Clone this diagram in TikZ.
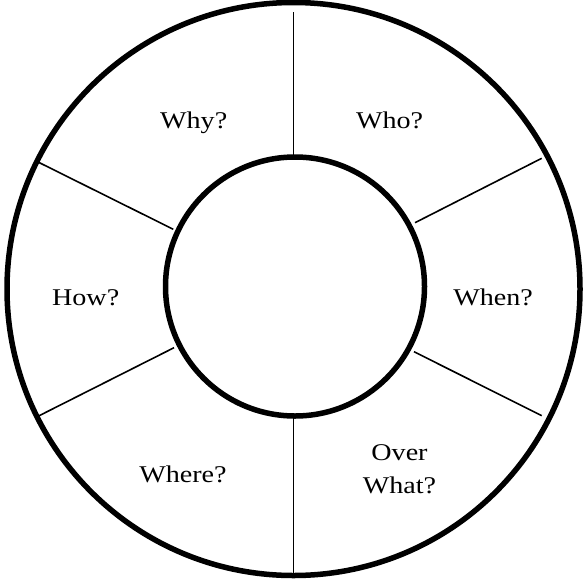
\documentclass[tikz,border=0pt]{standalone}
\usepackage{fontspec}
\setmainfont[FakeStretch=1.17]{Liberation Serif}
\begin{document}
\begin{tikzpicture}[x=1pt,y=-1pt,
  ring/.style={circle,draw=black,line width=5.5pt,inner sep=0pt,outer sep=0pt},
  spoke/.style={draw=black,line width=1.6pt},
  lbl/.style={font=\fontsize{24}{33}\selectfont,align=center,inner sep=0pt,text=black}]
\useasboundingbox (0,0) rectangle (583,581);
\node[ring,minimum size=573pt] (outer) at (293.5,289) {};
\node[ring,minimum size=259pt] (inner) at (295,286.5) {};
\coordinate (t1) at (293.5,12);
\coordinate (t2) at (293.5,155);
\coordinate (b1) at (293.5,418);
\coordinate (b2) at (293.5,575);
\coordinate (ur1) at (541.7,158.3);
\coordinate (ur2) at (415,222.7);
\coordinate (lr1) at (414,351.7);
\coordinate (lr2) at (541.7,415.7);
\coordinate (ul1) at (36,161);
\coordinate (ul2) at (173.3,229.3);
\coordinate (ll1) at (174,347.7);
\coordinate (ll2) at (36,417.3);
\draw[spoke] (t1) -- (t2);
\draw[spoke] (b1) -- (b2);
\draw[spoke] (ur1) -- (ur2);
\draw[spoke] (lr1) -- (lr2);
\draw[spoke] (ul1) -- (ul2);
\draw[spoke] (ll1) -- (ll2);
\node[lbl] (why) at (193.7,122.7) {Why?};
\node[lbl] (who) at (389.6,120.8) {Who?};
\node[lbl] (how) at (85.7,297.8) {How?};
\node[lbl] (when) at (493,297.8) {When?};
\node[lbl] (where) at (182.9,474.4) {Where?};
\node[lbl] (overwhat) at (399.5,469.5) {Over\\What?};
\end{tikzpicture}
\end{document}
